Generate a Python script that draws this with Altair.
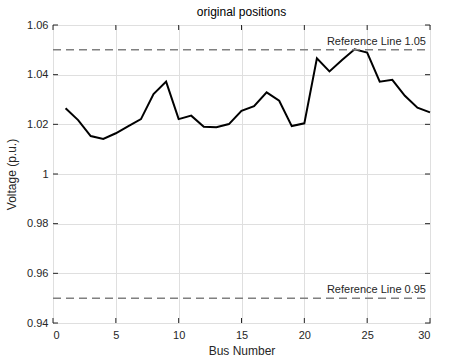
import altair as alt
import pandas as pd

bus = list(range(1, 31))
voltage = [1.0265, 1.0217, 1.0153, 1.0141, 1.0164, 1.0193, 1.0221, 1.0322, 1.0372, 1.0221,
           1.0235, 1.0190, 1.0188, 1.0201, 1.0254, 1.0273, 1.0329, 1.0295, 1.0193, 1.0204,
           1.0466, 1.0413, 1.0459, 1.0502, 1.0489, 1.0372, 1.0379, 1.0315, 1.0267, 1.0248]
ref_values = [1.05, 0.95]
ref_labels = ["Reference Line 1.05", "Reference Line 0.95"]
x_ticks = [0, 5, 10, 15, 20, 25, 30]
y_ticks = [0.94, 0.96, 0.98, 1.0, 1.02, 1.04, 1.06]

W, H = 377, 298
FONT = "Liberation Sans"
AX = "#262626"

df = pd.DataFrame({"bus": bus, "v": voltage})
ref = pd.DataFrame({"v": ref_values, "label": ref_labels, "xend": [30, 30]})
xt = pd.DataFrame({"x": x_ticks})
yt = pd.DataFrame({"y": y_ticks})

xs = alt.Scale(domain=[0, 30], nice=False, zero=False)
ys = alt.Scale(domain=[0.94, 1.06], nice=False, zero=False)

line = alt.Chart(df).mark_line(color="black", strokeWidth=2).encode(
    x=alt.X("bus:Q", scale=xs, title="Bus Number",
            axis=alt.Axis(values=x_ticks, grid=True, gridColor="#dfdfdf", tickSize=0,
                          labelPadding=6, titlePadding=5, domain=False,
                          labelFont=FONT, labelFontSize=11, labelColor=AX,
                          titleFont=FONT, titleFontSize=12, titleFontWeight="normal",
                          titleColor=AX)),
    y=alt.Y("v:Q", scale=ys, title="Voltage (p.u.)",
            axis=alt.Axis(values=y_ticks, grid=True, gridColor="#dfdfdf", tickSize=0,
                          labelPadding=5, titlePadding=8, domain=False,
                          labelExpr="format(datum.value, '~g')",
                          labelFont=FONT, labelFontSize=11, labelColor=AX,
                          titleFont=FONT, titleFontSize=12, titleFontWeight="normal",
                          titleColor=AX)),
)

refline = alt.Chart(ref).mark_rule(color="#808080", strokeWidth=1.5, strokeDash=[8, 5]).encode(
    y=alt.Y("v:Q", scale=ys), x=alt.value(0), x2=alt.value(W)
)
reftext = alt.Chart(ref).mark_text(align="right", baseline="bottom", dx=-4, dy=-3,
                                   font=FONT, fontSize=11, color=AX).encode(
    x=alt.X("xend:Q", scale=xs), y=alt.Y("v:Q", scale=ys), text="label:N"
)

tl = 5
xb = alt.Chart(xt).mark_rule(color=AX).encode(x=alt.X("x:Q", scale=xs), y=alt.value(H), y2=alt.value(H - tl))
xtop = alt.Chart(xt).mark_rule(color=AX).encode(x=alt.X("x:Q", scale=xs), y=alt.value(0), y2=alt.value(tl))
yl = alt.Chart(yt).mark_rule(color=AX).encode(y=alt.Y("y:Q", scale=ys), x=alt.value(0), x2=alt.value(tl))
yr = alt.Chart(yt).mark_rule(color=AX).encode(y=alt.Y("y:Q", scale=ys), x=alt.value(W), x2=alt.value(W - tl))

chart = alt.layer(line, refline, reftext, xb, xtop, yl, yr).properties(
    width=W, height=H,
    background="white",
    title=alt.Title("original positions", font=FONT, fontSize=12, fontWeight="normal",
                    color="black", offset=0),
    autosize=alt.AutoSizeParams(type="none"),
    padding={"left": 53, "top": 25, "right": 23, "bottom": 40},
).configure_view(stroke=AX, strokeWidth=1)

chart.save("out.html", embed_options={"renderer": "svg", "actions": False})
